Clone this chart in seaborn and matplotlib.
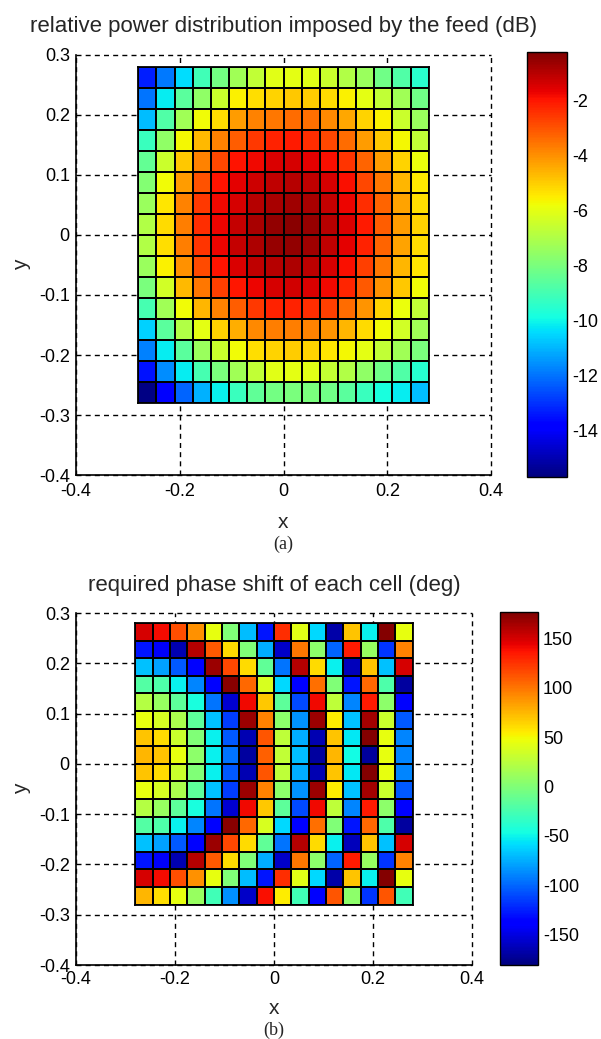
import numpy as np
import pandas as pd
import matplotlib
matplotlib.use("Agg")
import matplotlib.pyplot as plt
import seaborn as sns

# relative power per cell (dB), row 1 = top of the array
power_db = [
    [-13.3, -11.9, -10.4, -9.1, -8.1, -7.3, -6.7, -6.1, -6.0, -6.1, -6.5, -7.0, -7.4, -8.2, -8.8, -9.5],
    [-12.0, -10.2, -8.6, -7.6, -6.5, -5.6, -5.3, -5.1, -4.9, -5.0, -5.2, -5.6, -6.0, -6.7, -7.3, -8.2],
    [-10.9, -8.8, -7.3, -5.8, -5.2, -4.2, -3.8, -3.6, -3.4, -3.5, -3.9, -4.4, -5.1, -5.6, -6.5, -7.4],
    [-9.2, -7.6, -5.7, -4.7, -3.8, -3.2, -2.6, -2.2, -2.1, -2.4, -2.8, -3.4, -4.2, -4.9, -5.7, -6.7],
    [-8.4, -6.5, -4.9, -3.8, -2.8, -2.0, -1.8, -1.5, -1.4, -1.6, -1.9, -2.5, -3.3, -4.2, -5.1, -5.9],
    [-7.8, -5.8, -4.2, -3.0, -2.0, -1.6, -1.3, -1.1, -1.0, -1.15, -1.4, -1.9, -2.8, -3.6, -4.6, -5.5],
    [-7.4, -5.4, -3.8, -2.6, -1.8, -1.4, -1.0, -0.8, -0.7, -0.85, -1.2, -1.7, -2.4, -3.3, -4.3, -5.3],
    [-7.0, -5.2, -3.7, -2.4, -1.7, -1.2, -0.8, -0.5, -0.4, -0.6, -1.0, -1.5, -2.1, -3.2, -4.2, -5.1],
    [-7.0, -5.3, -3.7, -2.5, -1.7, -1.2, -0.9, -0.6, -0.5, -0.7, -1.1, -1.6, -2.2, -3.3, -4.3, -5.2],
    [-7.4, -5.6, -4.0, -2.9, -2.0, -1.5, -1.1, -1.0, -0.9, -1.05, -1.4, -1.9, -2.7, -3.6, -4.6, -5.4],
    [-8.0, -6.4, -4.7, -3.6, -2.7, -2.05, -1.7, -1.4, -1.35, -1.5, -1.8, -2.3, -3.1, -4.0, -4.9, -5.8],
    [-9.0, -7.3, -5.8, -4.6, -3.8, -3.2, -2.6, -2.2, -2.2, -2.4, -2.7, -3.4, -4.1, -5.1, -5.9, -6.7],
    [-10.6, -8.6, -7.0, -6.0, -5.1, -4.5, -3.9, -3.7, -3.7, -3.8, -4.1, -4.6, -5.2, -5.8, -6.4, -7.3],
    [-11.8, -10.2, -8.6, -7.4, -6.5, -5.8, -5.3, -5.1, -5.0, -5.1, -5.4, -5.7, -6.0, -6.7, -7.3, -8.0],
    [-13.5, -11.6, -10.2, -9.0, -8.0, -7.3, -6.7, -6.1, -6.0, -6.1, -6.6, -7.0, -7.6, -8.2, -8.8, -9.6],
    [-15.6, -13.8, -12.2, -11.1, -10.1, -9.2, -8.5, -8.1, -8.0, -8.0, -8.2, -8.6, -9.2, -9.8, -10.2, -10.9],
]

# required phase per cell (deg), row 1 = top of the array
phase_deg = [
    [150, 140, 115, 90, 45, 0, -70, -128, 128, 42, -60, -168, 70, -52, 175, 45],
    [-128, -142, -165, 160, 110, 62, 0, -75, -158, 100, 5, -100, 135, 10, -117, 95],
    [-68, -80, -105, -135, 168, 118, 62, -14, -95, 160, 62, -52, -162, 70, -68, 150],
    [-20, -22, -52, -90, -135, 173, 105, 38, -60, -138, 102, 0, -128, 105, -22, -170],
    [22, 10, -15, -45, -95, -155, 142, 68, -15, -110, 142, 27, -90, 135, 5, -135],
    [45, 37, 18, -15, -68, -115, 168, 95, 5, -85, 168, 55, -68, 165, 32, -105],
    [70, 62, 32, 0, -52, -105, -165, 112, 27, -75, -165, 70, -55, 175, 45, -90],
    [75, 70, 45, 5, -52, -95, -170, 108, 28, -70, -170, 75, -48, -172, 45, -90],
    [70, 62, 32, 0, -52, -105, -165, 112, 27, -75, -165, 70, -55, 175, 45, -90],
    [45, 37, 18, -15, -68, -115, 168, 95, 5, -85, 168, 55, -68, 165, 32, -105],
    [22, 10, -15, -45, -95, -155, 142, 68, -15, -110, 142, 27, -90, 135, 5, -135],
    [-20, -22, -52, -90, -135, 173, 105, 38, -60, -138, 102, 0, -128, 105, -22, -170],
    [-68, -80, -105, -135, 168, 118, 62, -14, -95, 160, 62, -52, -162, 70, -68, 150],
    [-128, -142, -165, 160, 110, 62, 0, -75, -158, 100, 5, -100, 135, 10, -117, 95],
    [150, 140, 115, 90, 45, 0, -70, -128, 128, 42, -60, -168, 70, -52, 175, 45],
    [75, 60, 45, 10, -28, -85, -158, 138, 55, -28, -135, 112, 5, -118, 112, -28],
]

x_ticks = [-0.4, -0.2, 0, 0.2, 0.4]
x_labels = ["-0.4", "-0.2", "0", "0.2", "0.4"]
y_ticks = [-0.4, -0.3, -0.2, -0.1, 0, 0.1, 0.2, 0.3]
y_labels = ["-0.4", "-0.3", "-0.2", "-0.1", "0", "0.1", "0.2", "0.3"]
power_cticks = [-14, -12, -10, -8, -6, -4, -2]
phase_cticks = [-150, -100, -50, 0, 50, 100, 150]
half_size = 0.28  # array half width (m)

sns.set_style("white")
plt.rcParams["font.family"] = ["Liberation Sans", "DejaVu Sans"]
plt.rcParams["axes.unicode_minus"] = False

W, H = 601, 1039
fig = plt.figure(figsize=(W / 100, H / 100), dpi=100)


def box(l, t, r, b):
    return [l / W, 1 - b / H, (r - l) / W, (b - t) / H]


def panel(ax, cax, rect, values, vmin, vmax, cticks, title, tag,
          xpad, xlab_off, tag_off):
    l, t, r, b = rect
    aw, ah = r - l, b - t
    ax.set_xlim(-0.4, 0.4)
    ax.set_ylim(-0.4, 0.3)
    ax.set_xticks(x_ticks)
    ax.set_xticklabels(x_labels)
    ax.set_yticks(y_ticks)
    ax.set_yticklabels(y_labels)
    ax.grid(True, color="black", linestyle=(0, (3.6, 3.0)), linewidth=1.0)
    for gl in ax.get_xgridlines() + ax.get_ygridlines():
        gl.set_clip_on(False)
    for s in ["top", "right"]:
        ax.spines[s].set_visible(False)
    for s in ["left", "bottom"]:
        ax.spines[s].set_color("black")
        ax.spines[s].set_linewidth(1.2)
        ax.spines[s].set_zorder(3)
    ax.tick_params(direction="in", length=4, width=1, labelsize=13,
                   colors="black")
    ax.tick_params(axis="x", pad=xpad)
    ax.tick_params(axis="y", pad=4.5)

    ax.set_xlabel("x", fontsize=15)
    ax.xaxis.set_label_coords(0.5, -xlab_off / ah)
    ax.xaxis.label.set_va("center")
    ax.set_ylabel("y", fontsize=15)
    ax.yaxis.set_label_coords(-(l - 22) / aw, 0.5)
    ax.yaxis.label.set_va("center")
    ax.text(0.5, 1 + 28 / ah, title, transform=ax.transAxes, ha="center",
            va="center", fontsize=16)
    ax.text(0.5, -tag_off / ah, tag, transform=ax.transAxes, ha="center",
            va="center", fontsize=13, family="Liberation Serif")

    hm = ax.inset_axes([-half_size, -half_size, 2 * half_size, 2 * half_size],
                       transform=ax.transData)
    df = pd.DataFrame(values)
    sns.heatmap(df, ax=hm, cmap="jet", vmin=vmin, vmax=vmax,
                linewidths=1.3, linecolor="black", cbar_ax=cax,
                xticklabels=False, yticklabels=False)
    for s in hm.spines.values():
        s.set_visible(True)
        s.set_color("black")
        s.set_linewidth(1.3)

    cb = hm.collections[0].colorbar
    cb.set_ticks(cticks)
    cb.set_ticklabels([str(v) for v in cticks])
    cb.outline.set_edgecolor("black")
    cb.outline.set_linewidth(1.0)
    cax.tick_params(direction="in", length=4, width=1, left=True, right=True,
                    labelsize=13, colors="black", pad=3.5)


rect1 = (76, 55, 491, 475)
ax1 = fig.add_axes(box(*rect1))
cax1 = fig.add_axes(box(527, 52, 567, 477))
panel(ax1, cax1, rect1, power_db, -15.7, -0.25, power_cticks,
      "relative power distribution imposed by the feed (dB)", "(a)",
      6, 48, 69)

rect2 = (76, 613, 472, 965)
ax2 = fig.add_axes(box(*rect2))
cax2 = fig.add_axes(box(500, 612, 538, 965))
panel(ax2, cax2, rect2, phase_deg, -181, 177, phase_cticks,
      "required phase shift of each cell (deg)", "(b)",
      4.5, 43, 65)

fig.savefig("out.png", dpi=100)
